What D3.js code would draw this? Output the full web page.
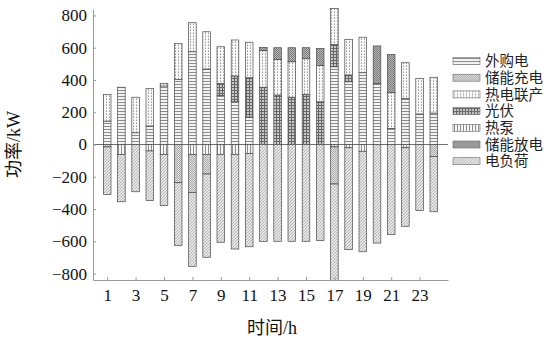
<!DOCTYPE html>
<html>
<head>
<meta charset="utf-8">
<script src="https://cdn.jsdelivr.net/npm/d3@7"></script>
<style>
  html, body { margin: 0; padding: 0; background: #fff; }
  svg { display: block; }
</style>
</head>
<body>
<svg id="chart" width="548" height="344"></svg>
<script>
// Hourly power balance (kW): sources stacked upward, consumption stacked downward
const hours = [1,2,3,4,5,6,7,8,9,10,11,12,13,14,15,16,17,18,19,20,21,22,23,24];

// supply side
const gridPurchase  = [145,355,73,115,363,404,575,468,303,265,169,0,0,0,0,0,482,389,445,379,100,286,189,195];
const photovoltaic  = [0,0,0,0,0,0,0,0,76,160,245,355,307,293,311,265,139,42,0,0,0,0,0,0];
const chp           = [165,0,220,233,15,223,180,231,227,223,220,227,221,220,221,224,223,221,220,0,221,221,221,222];
const storageOut    = [0,0,0,0,0,0,0,0,0,0,0,20,72,87,68,107,0,0,0,232,238,0,0,0];

// demand side (drawn below zero)
const heatPump      = [0,61,0,40,61,0,61,61,61,61,55,0,0,0,0,0,15,20,42,0,0,20,0,0];
const storageIn     = [15,0,0,0,0,237,236,122,0,0,0,0,0,0,0,0,230,0,0,0,0,0,0,75];
const elecLoad      = [294,294,293,308,318,390,458,516,545,587,579,602,600,600,600,596,599,632,623,611,559,487,410,342];

const yTicks = [-800,-600,-400,-200,0,200,400,600,800];
const xTicks = [1,3,5,7,9,11,13,15,17,19,21,23];

const seriesNames = {
  grid: "外购电", storIn: "储能充电", chp: "热电联产", pv: "光伏",
  hp: "热泵", storOut: "储能放电", load: "电负荷"
};
const legendOrder = ["grid","storIn","chp","pv","hp","storOut","load"];
const stackOrder  = ["grid","pv","chp","storOut","hp","storIn","load"];

const rows = hours.map((h, i) => ({
  hour: h,
  grid: gridPurchase[i],
  pv: photovoltaic[i],
  chp: chp[i],
  storOut: storageOut[i],
  hp: -heatPump[i],
  storIn: -storageIn[i],
  load: -elecLoad[i]
}));

const svg = d3.select("#chart");
const defs = svg.append("defs");

// hatch fills
function pattern(id, w, h, bg, draw) {
  const p = defs.append("pattern").attr("id", id)
    .attr("patternUnits", "userSpaceOnUse").attr("width", w).attr("height", h);
  p.append("rect").attr("width", w).attr("height", h).attr("fill", bg);
  draw(p);
}
pattern("p-grid", 4, 3, "#f3f3f3", p => {
  p.append("rect").attr("x", 0).attr("y", 0).attr("width", 4).attr("height", 1).attr("fill", "#8c8c8c");
});
pattern("p-hp", 3, 4, "#f6f6f6", p => {
  p.append("rect").attr("x", 1).attr("y", 0).attr("width", 1).attr("height", 4).attr("fill", "#8f8f8f");
});
pattern("p-pv", 3, 3, "#c9c9c9", p => {
  p.append("rect").attr("x", 0).attr("y", 0).attr("width", 3).attr("height", 1).attr("fill", "#666");
  p.append("rect").attr("x", 0).attr("y", 0).attr("width", 1).attr("height", 3).attr("fill", "#666");
});
pattern("p-chp", 3, 3, "#f8f8f8", p => {
  p.append("rect").attr("x", 1).attr("y", 0).attr("width", 1).attr("height", 1).attr("fill", "#9a9a9a");
  p.append("rect").attr("x", 1).attr("y", 2).attr("width", 1).attr("height", 1).attr("fill", "#c4c4c4");
});
pattern("p-storIn", 2, 2, "#e2e2e2", p => {
  p.append("rect").attr("x", 0).attr("y", 0).attr("width", 1).attr("height", 1).attr("fill", "#a8a8a8");
  p.append("rect").attr("x", 1).attr("y", 1).attr("width", 1).attr("height", 1).attr("fill", "#a8a8a8");
});
pattern("p-storOut", 2, 2, "#b8b8b8", p => {
  p.append("rect").attr("x", 0).attr("y", 0).attr("width", 1).attr("height", 1).attr("fill", "#7a7a7a");
  p.append("rect").attr("x", 1).attr("y", 1).attr("width", 1).attr("height", 1).attr("fill", "#7a7a7a");
});
pattern("p-load", 3, 3, "#e6e6e6", p => {
  p.append("path").attr("d", "M0,3 L3,0 M-1,1 L1,-1 M2,4 L4,2").attr("stroke", "#b0b0b0").attr("stroke-width", 0.9);
});

const x = d3.scaleLinear().domain([0, 25]).range([93, 448]);
const y = d3.scaleLinear().domain([-840, 840]).range([280, 9]);
const barW = 7.6;

// zero line
svg.append("line")
  .attr("x1", x(0)).attr("x2", x(25)).attr("y1", y(0)).attr("y2", y(0))
  .attr("stroke", "#707070").attr("stroke-width", 1);

// stacked bars
const stacked = d3.stack().keys(stackOrder).offset(d3.stackOffsetDiverging)(rows);
const layers = svg.append("g").selectAll("g").data(stacked).join("g")
  .attr("fill", d => `url(#p-${d.key})`);
layers.selectAll("rect")
  .data(d => d.filter(s => s[1] - s[0] !== 0))
  .join("rect")
  .attr("x", d => x(d.data.hour) - barW / 2)
  .attr("width", barW)
  .attr("y", d => y(Math.max(d[0], d[1])))
  .attr("height", d => Math.abs(y(d[0]) - y(d[1])))
  .attr("stroke", "#4a4a4a")
  .attr("stroke-width", 0.7);

// axes
const serif = "'Liberation Serif', 'Times New Roman', serif";
const yAxis = svg.append("g")
  .attr("transform", `translate(${x(0)},0)`)
  .call(d3.axisLeft(y).tickValues(yTicks).tickSizeInner(-3).tickSizeOuter(0).tickPadding(6));
const xAxis = svg.append("g")
  .attr("transform", `translate(0,${y(-840)})`)
  .call(d3.axisBottom(x).tickValues(xTicks).tickSizeInner(-3).tickSizeOuter(0).tickPadding(9));
[yAxis, xAxis].forEach(g => {
  g.select(".domain").attr("stroke", "#9a9a9a");
  g.selectAll(".tick line").attr("stroke", "#9a9a9a");
  g.selectAll(".tick text").attr("fill", "#111").attr("font-family", serif).attr("font-size", 17);
});

// axis titles
const mixed = "'Liberation Serif', 'Noto Sans CJK SC', serif";
svg.append("text")
  .attr("transform", `translate(20,${y(0)}) rotate(-90)`)
  .attr("text-anchor", "middle")
  .attr("font-family", mixed).attr("font-size", 18).attr("fill", "#111")
  .text("功率/kW");
svg.append("text")
  .attr("x", 272).attr("y", 334)
  .attr("text-anchor", "middle")
  .attr("font-family", mixed).attr("font-size", 18).attr("fill", "#111")
  .text("时间/h");

// legend
const legend = svg.append("g").attr("transform", "translate(453,61)");
legendOrder.forEach((k, i) => {
  const g = legend.append("g").attr("transform", `translate(0,${i * 16.7})`);
  g.append("rect").attr("x", 0).attr("y", -3.5).attr("width", 27).attr("height", 7)
    .attr("fill", `url(#p-${k})`).attr("stroke", "#6a6a6a").attr("stroke-width", 0.6);
  g.append("text").attr("x", 32).attr("y", 0).attr("dy", "0.36em")
    .attr("font-family", mixed).attr("font-size", 14.5).attr("fill", "#222")
    .text(seriesNames[k]);
});
</script>
</body>
</html>
